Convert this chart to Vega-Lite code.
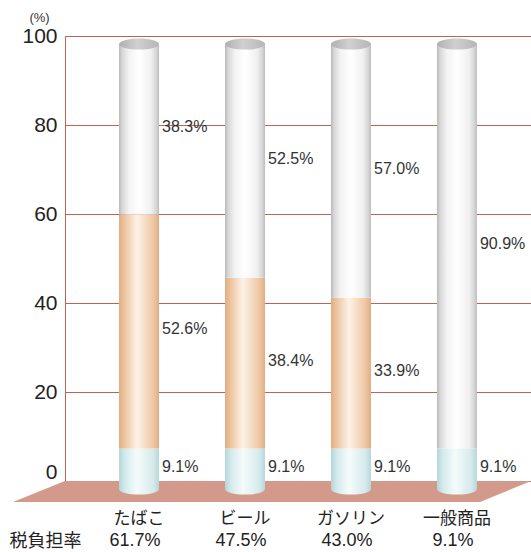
{
  "$schema": "https://vega.github.io/schema/vega-lite/v6.json",
  "width": 466,
  "height": 445,
  "autosize": "none",
  "padding": {"left": 65, "top": 36, "right": 0, "bottom": 71},
  "background": "white",
  "config": {"view": {"stroke": null}},
  "datasets": {
    "segs": [
      {"cat": "たばこ", "seg": "消費税", "order": 1, "value": 9.1},
      {"cat": "たばこ", "seg": "個別消費税", "order": 2, "value": 52.6},
      {"cat": "たばこ", "seg": "本体価格", "order": 3, "value": 38.3},
      {"cat": "ビール", "seg": "消費税", "order": 1, "value": 9.1},
      {"cat": "ビール", "seg": "個別消費税", "order": 2, "value": 38.4},
      {"cat": "ビール", "seg": "本体価格", "order": 3, "value": 52.5},
      {"cat": "ガソリン", "seg": "消費税", "order": 1, "value": 9.1},
      {"cat": "ガソリン", "seg": "個別消費税", "order": 2, "value": 33.9},
      {"cat": "ガソリン", "seg": "本体価格", "order": 3, "value": 57.0},
      {"cat": "一般商品", "seg": "消費税", "order": 1, "value": 9.1},
      {"cat": "一般商品", "seg": "本体価格", "order": 3, "value": 90.9}
    ],
    "rates": [
      {"cat": "たばこ", "rate": 61.7},
      {"cat": "ビール", "rate": 47.5},
      {"cat": "ガソリン", "rate": 43.0},
      {"cat": "一般商品", "rate": 9.1}
    ]
  },
  "layer": [
    {
      "data": {"values": [{"part": "floor"}]},
      "mark": {"type": "point", "filled": true, "opacity": 1, "fill": "#d39a8b", "stroke": null, "size": 324900,
               "shape": "M-0.818,0L0.818,0L0.639,0.074L-1,0.074Z"},
      "encoding": {
        "y": {"datum": 0, "type": "quantitative", "scale": {"domain": [0, 100], "nice": false},
              "axis": {"values": [0, 20, 40, 60, 80, 100], "ticks": false, "domain": true, "domainColor": "#bf6454", "domainWidth": 1,
                       "grid": true, "gridColor": "#bf6454", "gridWidth": 1,
                       "labelFont": "Liberation Sans", "labelFontSize": 21, "labelColor": "#222", "labelPadding": 8,
                       "labelOffset": {"condition": {"test": "datum.value === 0", "value": -9}, "value": 0},
                       "title": "(%)", "titleAngle": 0, "titleX": -26, "titleY": -19, "titleAlign": "center", "titleBaseline": "middle",
                       "titleFont": "Liberation Sans", "titleFontSize": 13, "titleFontWeight": "normal", "titleColor": "#333"}}
      }
    },
    {
      "data": {"name": "rates"},
      "mark": {"type": "point", "filled": true, "opacity": 1, "stroke": null, "size": 1600, "yOffset": 8,
               "shape": "M-1,0A1,0.28 0 1,1 1,0A1,0.28 0 1,1 -1,0Z",
               "fill": {"gradient": "linear", "x1": 0, "y1": 0, "x2": 1, "y2": 0,
                        "stops": [{"offset": 0, "color": "#b3d6da"}, {"offset": 0.15, "color": "#d4eaec"}, {"offset": 0.45, "color": "#f5fbfb"}, {"offset": 0.85, "color": "#d6eaec"}, {"offset": 1, "color": "#b6d8dc"}]}},
      "encoding": {
        "x": {"field": "cat", "type": "nominal", "sort": null,
              "scale": {"domain": ["たばこ", "ビール", "ガソリン", "一般商品"], "paddingInner": 0.623, "paddingOuter": 0.51},
              "axis": {"labelAngle": 0, "ticks": false, "domain": false, "labelFont": "Noto Sans CJK JP", "labelFontSize": 17, "labelColor": "#222", "labelPadding": 29,
                       "title": "税負担率", "titleX": -20, "titleY": 60, "titleAlign": "center", "titleBaseline": "middle",
                       "titleFont": "Noto Sans CJK JP", "titleFontSize": 18, "titleFontWeight": "normal", "titleColor": "#222"}},
        "y": {"datum": 0, "type": "quantitative"}
      }
    },
    {
      "data": {"name": "segs"},
      "transform": [
        {"stack": "value", "groupby": ["cat"], "sort": [{"field": "order"}], "as": ["v0", "v1"]},
        {"calculate": "(datum.v0 + datum.v1) / 2", "as": "mid"},
        {"calculate": "format(datum.value, '.1f') + '%'", "as": "label"}
      ],
      "layer": [
        {
          "transform": [{"filter": "datum.seg === '消費税'"}],
          "mark": {"type": "bar", "size": 40, "yOffset": 8, "y2Offset": 8,
                   "fill": {"gradient": "linear", "x1": 0, "y1": 0, "x2": 1, "y2": 0,
                            "stops": [{"offset": 0, "color": "#b3d6da"}, {"offset": 0.15, "color": "#d4eaec"}, {"offset": 0.45, "color": "#f5fbfb"}, {"offset": 0.85, "color": "#d6eaec"}, {"offset": 1, "color": "#b6d8dc"}]}},
          "encoding": {
            "x": {"field": "cat", "type": "nominal", "sort": null},
            "y": {"field": "v1", "type": "quantitative"},
            "y2": {"field": "v0"}
          }
        },
        {
          "transform": [{"filter": "datum.seg === '個別消費税'"}],
          "mark": {"type": "bar", "size": 40, "yOffset": 8, "y2Offset": 8,
                   "fill": {"gradient": "linear", "x1": 0, "y1": 0, "x2": 1, "y2": 0,
                            "stops": [{"offset": 0, "color": "#e2ad80"}, {"offset": 0.14, "color": "#edc4a0"}, {"offset": 0.45, "color": "#fcf2e7"}, {"offset": 0.85, "color": "#efc8a5"}, {"offset": 1, "color": "#e2ae82"}]}},
          "encoding": {
            "x": {"field": "cat", "type": "nominal", "sort": null},
            "y": {"field": "v1", "type": "quantitative"},
            "y2": {"field": "v0"}
          }
        },
        {
          "transform": [{"filter": "datum.seg === '本体価格'"}],
          "mark": {"type": "bar", "size": 40, "yOffset": 8, "y2Offset": 8,
                   "fill": {"gradient": "linear", "x1": 0, "y1": 0, "x2": 1, "y2": 0,
                            "stops": [{"offset": 0, "color": "#b8b8b8"}, {"offset": 0.08, "color": "#d8d8d8"}, {"offset": 0.25, "color": "#f3f3f3"}, {"offset": 0.5, "color": "#ffffff"}, {"offset": 0.8, "color": "#f0f0f0"}, {"offset": 0.93, "color": "#d6d6d6"}, {"offset": 1, "color": "#bcbcbc"}]}},
          "encoding": {
            "x": {"field": "cat", "type": "nominal", "sort": null},
            "y": {"field": "v1", "type": "quantitative"},
            "y2": {"field": "v0"}
          }
        },
        {
          "mark": {"type": "text", "align": "left", "baseline": "middle", "dx": 23, "dy": 6, "font": "Liberation Sans", "fontSize": 16, "color": "#333"},
          "encoding": {
            "x": {"field": "cat", "type": "nominal", "sort": null},
            "y": {"field": "mid", "type": "quantitative"},
            "text": {"field": "label"}
          }
        }
      ]
    },
    {
      "data": {"name": "rates"},
      "mark": {"type": "point", "filled": true, "opacity": 1, "stroke": null, "size": 1600, "yOffset": 8,
               "shape": "M-1,0A1,0.28 0 1,1 1,0A1,0.28 0 1,1 -1,0Z",
               "fill": {"gradient": "linear", "x1": 0, "y1": 0, "x2": 1, "y2": 0,
                        "stops": [{"offset": 0, "color": "#b0b0b0"}, {"offset": 0.45, "color": "#d0d0d0"}, {"offset": 1, "color": "#b6b6b6"}]}},
      "encoding": {
        "x": {"field": "cat", "type": "nominal", "sort": null},
        "y": {"datum": 100, "type": "quantitative"}
      }
    },
    {
      "data": {"name": "rates"},
      "transform": [{"calculate": "format(datum.rate, '.1f') + '%'", "as": "rateLabel"}],
      "mark": {"type": "text", "baseline": "middle", "align": "center", "dx": -4, "dy": 60, "font": "Liberation Sans", "fontSize": 18, "color": "#222"},
      "encoding": {
        "x": {"field": "cat", "type": "nominal", "sort": null},
        "y": {"datum": 0, "type": "quantitative"},
        "text": {"field": "rateLabel"}
      }
    }
  ]
}
